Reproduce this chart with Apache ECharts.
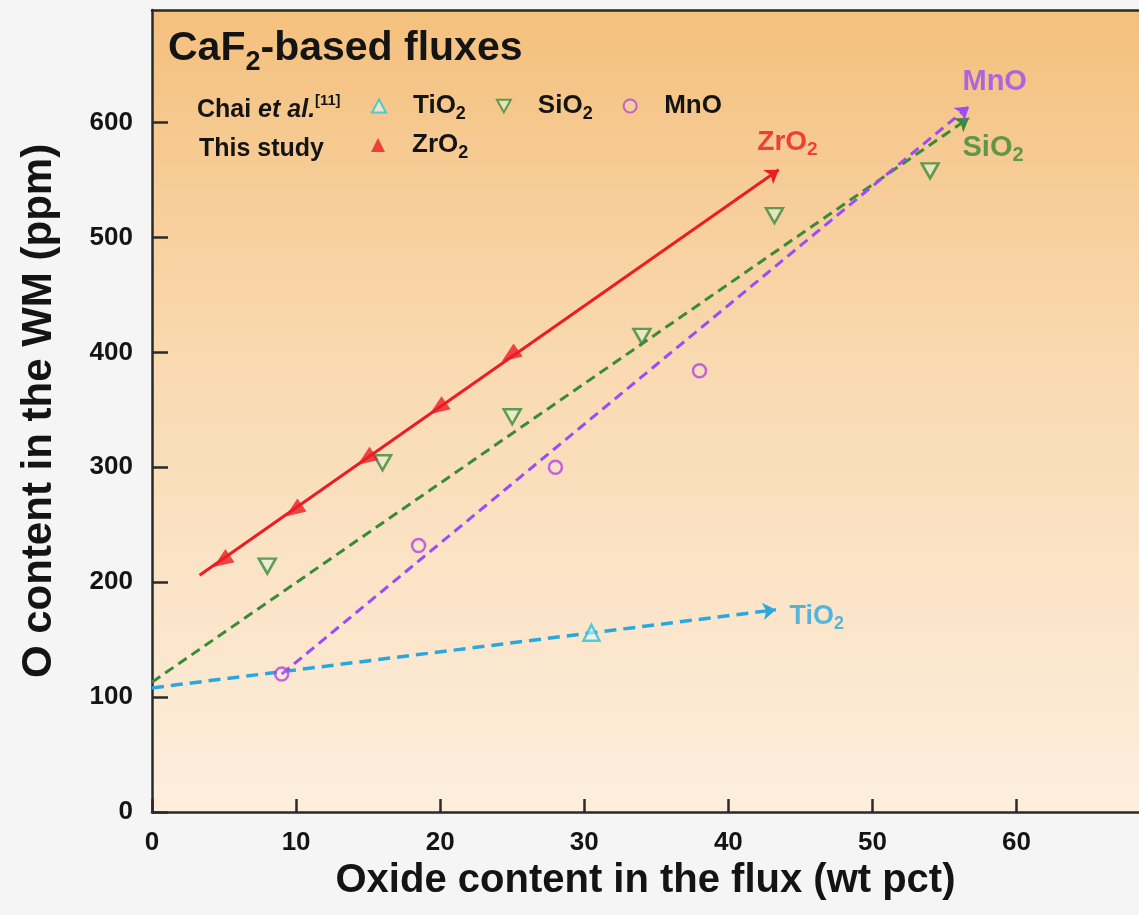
<!DOCTYPE html>
<html><head><meta charset="utf-8">
<script src="https://cdn.jsdelivr.net/npm/echarts@6/dist/echarts.min.js"></script>
<style>html,body{margin:0;padding:0;background:#f5f5f5}#c{width:1139px;height:915px}</style>
</head><body><div id="c"></div>
<script>
// ---- data ----
const xTicks = [0, 10, 20, 30, 40, 50, 60];
const yTicks = [0, 100, 200, 300, 400, 500, 600];
const zrO2 = [[5, 221], [10, 265], [15, 310], [20, 354], [25, 400]];
const tiO2 = [[30.5, 156]];
const siO2 = [[8, 214], [16, 304], [25, 344], [34, 414], [43.2, 519], [54, 558]];
const mnO = [[9, 120], [18.5, 232], [28, 300], [38, 384]];
const zrFit = [[3.3, 206], [43.5, 559]];
const tiFit = [[0, 108], [43.3, 176]];
const siFit = [[0, 113], [56.7, 604]];
const mnFit = [[9, 120], [56.7, 614]];
const seriesNames = ['TiO2', 'SiO2', 'MnO', 'ZrO2'];
const studyText = 'This study';
const xName = 'Oxide content in the flux (wt pct)';
const yName = 'O content in the WM (ppm)';

// ---- styles ----
const FONT = '"Liberation Sans", Arial, Helvetica, sans-serif';
const C = { red: '#ec1c24', green: '#3a8a36', purple: '#9a4cf6', circle: '#b443de', cyan: '#2aa8de', tri: '#2cc3d6', ink: '#141414' };
// arrowhead marker pointing down-left along the ZrO2 fit line
const ARROW_HEAD = 'path://M0,18 L21,13.1 L11.8,0 Z';
const DOWN_TRI = 'path://M0,0 L20,0 L10,18 Z';

function rich(main, sub, color, shift, weight) {
  const L = 2 * (shift + sub / 2);
  return {
    m: { fontFamily: FONT, fontSize: main, fontWeight: weight || 'bold', color, lineHeight: L, verticalAlign: 'middle' },
    i: { fontFamily: FONT, fontSize: main, fontWeight: weight || 'bold', fontStyle: 'italic', color, lineHeight: L, verticalAlign: 'middle' },
    s: { fontFamily: FONT, fontSize: sub, fontWeight: weight || 'bold', color, lineHeight: sub, verticalAlign: 'bottom' },
    u: { fontFamily: FONT, fontSize: sub * 0.82, fontWeight: weight || 'bold', color, lineHeight: 24, verticalAlign: 'top' },
    g: { fontFamily: FONT, fontSize: main, width: 22, lineHeight: L, verticalAlign: 'middle' }
  };
}
function chem(name) {
  return name.endsWith('2') ? `{m|${name.slice(0, -1)}}{s|2}` : `{m|${name}}`;
}
function legendText(name) { return '{g| }' + chem(name); }

const chart = echarts.init(document.getElementById('c'), null, { renderer: 'canvas' });

const tickSet = new Set(xTicks);
const yTickSet = new Set(yTicks);

function fitSeries(name, fit, color, type, width) {
  return {
    name: name, type: 'lines', coordinateSystem: 'cartesian2d', z: 2, silent: true,
    polyline: false,
    symbol: ['none', 'arrow'], symbolSize: [0, 13],
    lineStyle: { color, width, type, opacity: 1 },
    data: [{ coords: fit }]
  };
}
function labelSeries(name, fit, color, offset, size, weight) {
  return {
    name: name, type: 'scatter', z: 4, silent: true, symbol: 'circle', symbolSize: 1,
    itemStyle: { color: 'transparent' },
    label: {
      show: true, position: offset, align: 'left', verticalAlign: 'middle',
      formatter: () => chem(name), color, rich: rich(size, Math.round(size * 0.68), color, 8, weight)
    },
    data: [fit[fit.length - 1]]
  };
}

const option = {
  backgroundColor: '#f5f5f5',
  animation: false,
  title: [
    { text: `{m|CaF}{s|2}{m|-based fluxes}`, left: 168, top: 21, padding: 0,
      textStyle: { rich: rich(41, 27, C.ink, 14) } },
    { text: `{m|Chai }{i|et al.}{u|[11]}`, left: 197, top: 93, padding: 0,
      textStyle: { rich: rich(25, 18, C.ink, 8) } },
    { text: `{m|${studyText}}`, left: 199, top: 132, padding: 0,
      textStyle: { rich: rich(25, 18, C.ink, 8) } }
  ],
  legend: [
    { data: [{ name: seriesNames[0], icon: 'triangle' }, { name: seriesNames[1], icon: DOWN_TRI }, { name: seriesNames[2], icon: 'circle' }],
      left: 371, top: 93, padding: 0, itemWidth: 14, itemHeight: 13, itemGap: 30,
      selectedMode: false, formatter: legendText, textStyle: { rich: rich(26, 18, C.ink, 8) } },
    { data: [{ name: seriesNames[3], icon: 'triangle' }], left: 371, top: 132, padding: 0, itemWidth: 14, itemHeight: 14, itemGap: 30,
      symbolRotate: 0, selectedMode: false, formatter: legendText, textStyle: { rich: rich(26, 18, C.ink, 8) } }
  ],
  grid: {
    left: 152, right: 0, top: 10, bottom: 103, show: true, borderWidth: 0,
    backgroundColor: { type: 'linear', x: 0, y: 0, x2: 0, y2: 1, colorStops: [
      { offset: 0, color: '#f4c07d' }, { offset: 0.45, color: '#f9dab2' }, { offset: 1, color: '#fdeedd' }] }
  },
  xAxis: [
    { type: 'value', min: 0, max: 68.5, interval: 10, position: 'bottom',
      name: xName, nameLocation: 'middle', nameGap: 45,
      nameTextStyle: { fontFamily: FONT, fontSize: 40, fontWeight: 'bold', color: C.ink },
      axisLine: { lineStyle: { color: '#2a2a2a', width: 2.5 } },
      axisTick: { inside: true, length: 13, lineStyle: { color: '#2a2a2a', width: 2.5 } },
      axisLabel: { margin: 18, fontFamily: FONT, fontSize: 26, fontWeight: 'bold', color: C.ink,
        showMaxLabel: false, formatter: v => tickSet.has(v) ? String(v) : '' },
      splitLine: { show: false } },
    { type: 'value', min: 0, max: 68.5, position: 'top',
      axisLine: { show: true, lineStyle: { color: '#2a2a2a', width: 2.5 } },
      axisTick: { show: false }, axisLabel: { show: false }, splitLine: { show: false } }
  ],
  yAxis: {
    type: 'value', min: 0, max: 698, interval: 100,
    name: yName, nameLocation: 'middle', nameGap: 92,
    nameTextStyle: { fontFamily: FONT, fontSize: 42, fontWeight: 'bold', color: C.ink },
    axisLine: { show: true, lineStyle: { color: '#2a2a2a', width: 2.5 } },
    axisTick: { show: true, inside: true, length: 16, lineStyle: { color: '#2a2a2a', width: 2.5 } },
    axisLabel: { margin: 19, fontFamily: FONT, fontSize: 26, fontWeight: 'bold', color: C.ink,
      showMaxLabel: false, formatter: v => yTickSet.has(v) ? String(v) : '' },
    splitLine: { show: false }
  },
  series: [
    fitSeries('fitTi', tiFit, C.cyan, [12, 7], 3.5),
    fitSeries('fitSi', siFit, C.green, [10, 6], 3),
    fitSeries('fitMn', mnFit, C.purple, [10, 6], 3),
    fitSeries('fitZr', zrFit, C.red, 'solid', 3),
    { name: 'TiO2', type: 'scatter', z: 3, symbol: 'triangle', symbolSize: 16, data: tiO2,
      itemStyle: { color: 'rgba(225,250,250,0.75)', borderColor: C.tri, borderWidth: 2.5 } },
    { name: 'SiO2', type: 'scatter', z: 3, symbol: DOWN_TRI, symbolSize: [17, 15], data: siO2,
      itemStyle: { color: 'rgba(225,245,225,0.7)', borderColor: C.green, borderWidth: 2.5 } },
    { name: 'MnO', type: 'scatter', z: 3, symbol: 'circle', symbolSize: 13, data: mnO,
      itemStyle: { color: 'rgba(255,255,255,0.15)', borderColor: C.circle, borderWidth: 2.5 } },
    { name: 'ZrO2', type: 'scatter', z: 3, symbol: ARROW_HEAD, symbolSize: [21, 18], data: zrO2,
      itemStyle: { color: C.red } },
    labelSeries('ZrO2', zrFit, C.red, [-21, -27], 28, 'bold'),
    labelSeries('MnO', mnFit, C.purple, [-6, -24], 29, 'bold'),
    labelSeries('SiO2', siFit, C.green, [-6, 30], 29, 'bold'),
    labelSeries('TiO2', tiFit, C.cyan, [14, 7], 27, 'bold')
  ]
};
chart.setOption(option);
</script>
</body></html>
